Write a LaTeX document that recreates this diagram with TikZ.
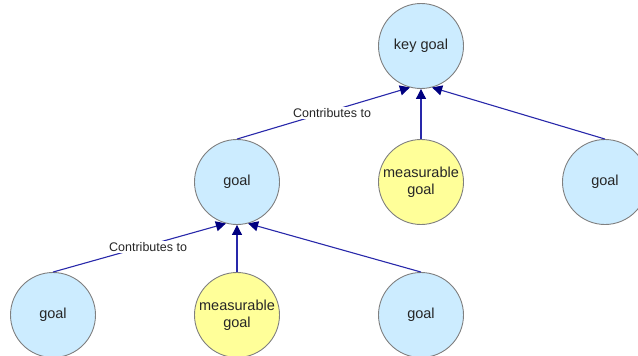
\documentclass[tikz,border=0pt]{standalone}
\usepackage{fontspec}
\setmainfont{Liberation Sans}
\usetikzlibrary{arrows.meta}
\definecolor{goalblue}{RGB}{204,236,255}
\definecolor{goalyellow}{RGB}{255,255,153}
\definecolor{rimgray}{RGB}{128,128,128}
\definecolor{linkblue}{RGB}{40,40,170}
\definecolor{tipblue}{RGB}{0,0,128}
\tikzset{
  goalnode/.style={circle, draw=rimgray, line width=0.9pt, fill=goalblue, minimum size=85pt, inner sep=0pt, align=center, font=\fontsize{14.5}{16.5}\selectfont, text=black!85},
  measnode/.style={goalnode, fill=goalyellow},
  link/.style={draw=linkblue, line width=1.1pt, -{Triangle[length=10pt,width=10pt,color=tipblue]}},
  linklabel/.style={fill=white, inner sep=1.5pt, font=\fontsize{12.5}{14}\selectfont, text=black!85, yshift=-2pt}
}
\begin{document}
\begin{tikzpicture}[x=1pt,y=-1pt]
\useasboundingbox (0,0) rectangle (638,356);
\node[goalnode] (key) at (421,46) {key goal};
\node[goalnode] (g1) at (237,182) {goal};
\node[measnode] (m1) at (421,182) {measurable\\goal};
\node[goalnode] (g2) at (605,182) {goal};
\node[goalnode] (g3) at (53,315) {goal};
\node[measnode] (m2) at (237,315) {measurable\\goal};
\node[goalnode] (g4) at (421,315) {goal};
\draw[link] (g1.north) -- node[linklabel, pos=0.55] {Contributes to} (key.255);
\draw[link] (m1.north) -- (key.270);
\draw[link] (g2.north) -- (key.285);
\draw[link] (g3.north) -- node[linklabel, pos=0.55] {Contributes to} (g1.255);
\draw[link] (m2.north) -- (g1.270);
\draw[link] (g4.north) -- (g1.285);
\end{tikzpicture}
\end{document}
